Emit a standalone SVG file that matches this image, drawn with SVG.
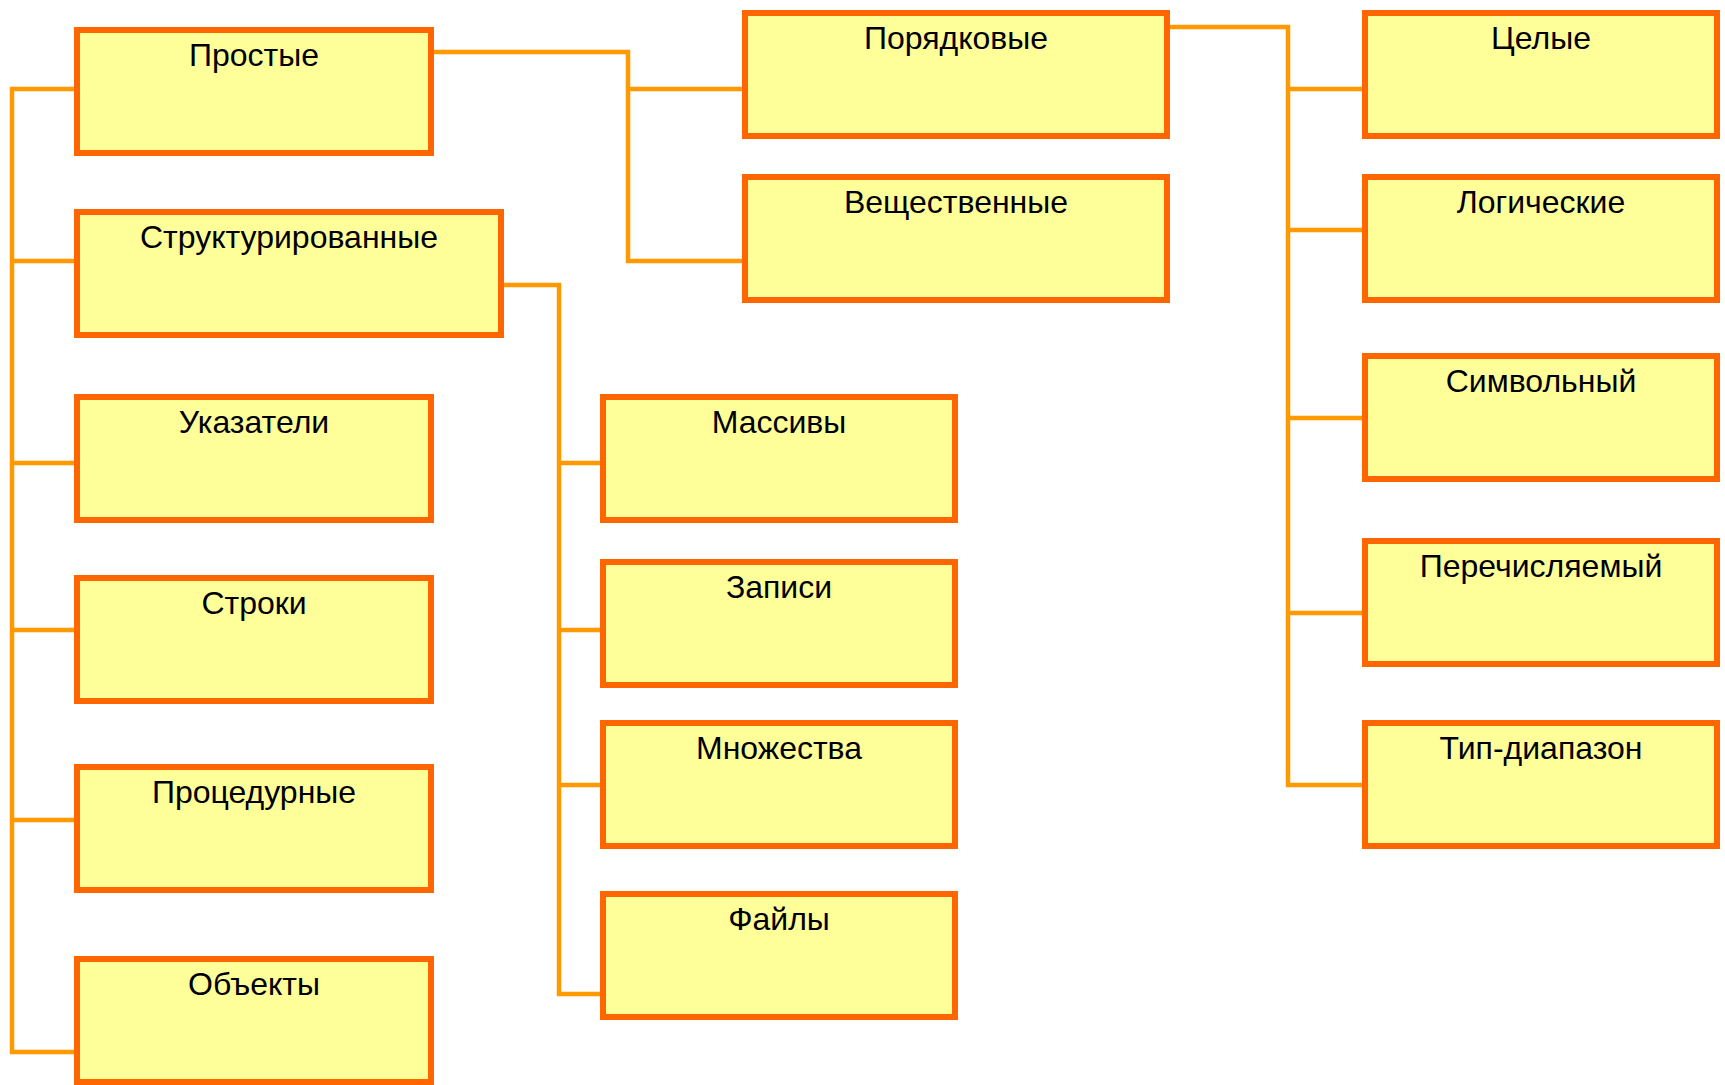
<svg xmlns="http://www.w3.org/2000/svg" width="1725" height="1085" viewBox="0 0 1725 1085">
<style>
.box{fill:#FFFF99;stroke:#FF6600;stroke-width:6}
.lbl{font-family:"Liberation Sans",Arial,sans-serif;font-size:32px;fill:#000;text-anchor:middle}
.con{fill:none;stroke:#FF9900;stroke-width:4.5;stroke-linejoin:miter}
</style>
<rect width="1725" height="1085" fill="#FFFFFF"/>
<g id="connectors">
<path class="con" d="M74,89 H12 V1052 H74 M12,261 H74 M12,463 H74 M12,630 H74 M12,820 H74"/>
<path class="con" d="M434,52 H628 V261 H742 M628,89 H742"/>
<path class="con" d="M504,285 H559 V994 H600 M559,463 H600 M559,630 H600 M559,785 H600"/>
<path class="con" d="M1170,27 H1288 V785 H1362 M1288,89 H1362 M1288,230 H1362 M1288,418 H1362 M1288,613 H1362"/>
</g>
<g id="prostye"><rect class="box" x="77" y="30" width="354" height="123"/><text class="lbl" x="254" y="66">Простые</text></g>
<g id="struct"><rect class="box" x="77" y="212" width="424" height="123"/><text class="lbl" x="289" y="248">Структурированные</text></g>
<g id="ukazateli"><rect class="box" x="77" y="397" width="354" height="123"/><text class="lbl" x="254" y="433">Указатели</text></g>
<g id="stroki"><rect class="box" x="77" y="578" width="354" height="123"/><text class="lbl" x="254" y="614">Строки</text></g>
<g id="procedurnye"><rect class="box" x="77" y="767" width="354" height="123"/><text class="lbl" x="254" y="803">Процедурные</text></g>
<g id="obekty"><rect class="box" x="77" y="959" width="354" height="123"/><text class="lbl" x="254" y="995">Объекты</text></g>
<g id="massivy"><rect class="box" x="603" y="397" width="352" height="123"/><text class="lbl" x="779" y="433">Массивы</text></g>
<g id="zapisi"><rect class="box" x="603" y="562" width="352" height="123"/><text class="lbl" x="779" y="598">Записи</text></g>
<g id="mnozhestva"><rect class="box" x="603" y="723" width="352" height="123"/><text class="lbl" x="779" y="759">Множества</text></g>
<g id="fayly"><rect class="box" x="603" y="894" width="352" height="123"/><text class="lbl" x="779" y="930">Файлы</text></g>
<g id="poryadkovye"><rect class="box" x="745" y="13" width="422" height="123"/><text class="lbl" x="956" y="49">Порядковые</text></g>
<g id="veshchestvennye"><rect class="box" x="745" y="177" width="422" height="123"/><text class="lbl" x="956" y="213">Вещественные</text></g>
<g id="celye"><rect class="box" x="1365" y="13" width="352" height="123"/><text class="lbl" x="1541" y="49">Целые</text></g>
<g id="logicheskie"><rect class="box" x="1365" y="177" width="352" height="123"/><text class="lbl" x="1541" y="213">Логические</text></g>
<g id="simvolny"><rect class="box" x="1365" y="356" width="352" height="123"/><text class="lbl" x="1541" y="392">Символьный</text></g>
<g id="perechislyaemy"><rect class="box" x="1365" y="541" width="352" height="123"/><text class="lbl" x="1541" y="577">Перечисляемый</text></g>
<g id="tip-diapazon"><rect class="box" x="1365" y="723" width="352" height="123"/><text class="lbl" x="1541" y="759">Тип-диапазон</text></g>
</svg>
